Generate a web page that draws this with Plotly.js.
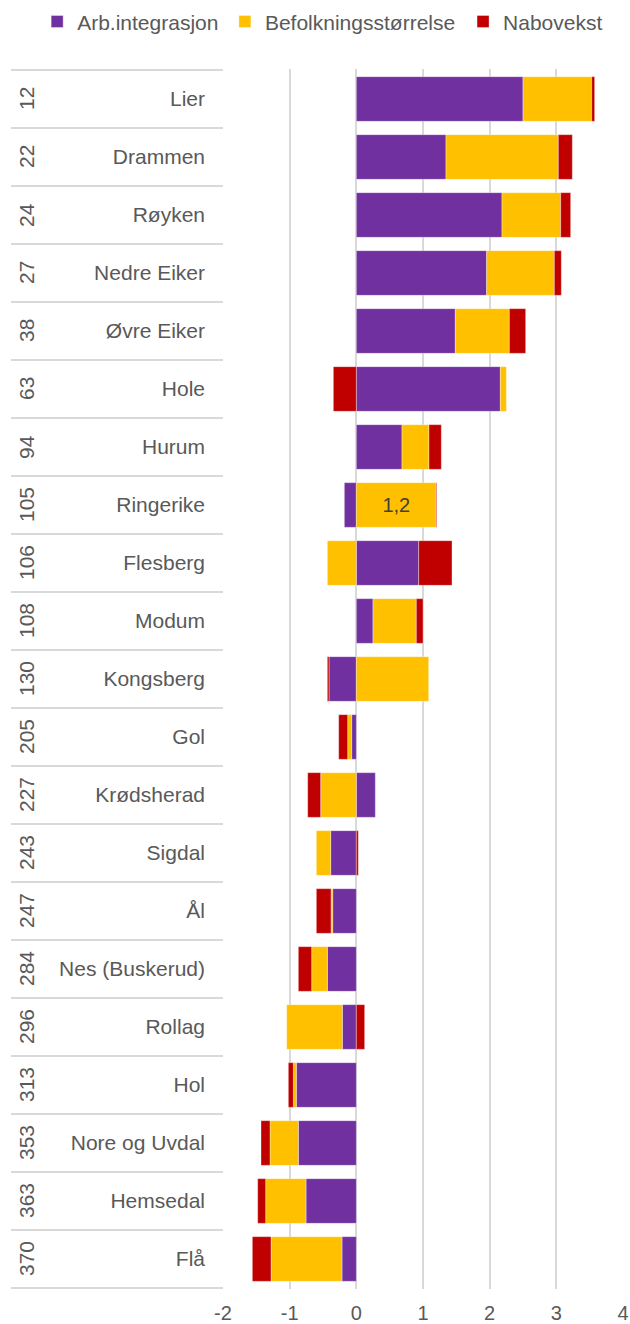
<!DOCTYPE html>
<html>
<head>
<meta charset="utf-8">
<script src="https://cdn.plot.ly/plotly-3.0.1.min.js"></script>
<style>
  html, body { margin: 0; padding: 0; background: #ffffff; }
  #chart { width: 630px; height: 1324px; }
</style>
</head>
<body>
<div id="chart"></div>
<script>
// Municipalities in Buskerud, ranked, with the three growth components
const kommuner = ["Lier", "Drammen", "Røyken", "Nedre Eiker", "Øvre Eiker", "Hole", "Hurum",
  "Ringerike", "Flesberg", "Modum", "Kongsberg", "Gol", "Krødsherad", "Sigdal", "Ål",
  "Nes (Buskerud)", "Rollag", "Hol", "Nore og Uvdal", "Hemsedal", "Flå"];
const rangering = ["12", "22", "24", "27", "38", "63", "94", "105", "106", "108", "130",
  "205", "227", "243", "247", "284", "296", "313", "353", "363", "370"];

const arbIntegrasjon = [2.50, 1.345, 2.185, 1.955, 1.485, 2.16, 0.685, -0.18, 0.935, 0.25, -0.41,
  -0.07, 0.285, -0.385, -0.355, -0.435, -0.21, -0.90, -0.87, -0.755, -0.215];
const befolkningsstorrelse = [1.03, 1.685, 0.88, 1.015, 0.81, 0.09, 0.405, 1.2, -0.435, 0.65, 1.085,
  -0.06, -0.535, -0.215, -0.025, -0.235, -0.835, -0.045, -0.425, -0.605, -1.065];
const nabovekst = [0.045, 0.21, 0.15, 0.105, 0.245, -0.345, 0.185, 0.01, 0.50, 0.10, -0.025,
  -0.135, -0.195, 0.03, -0.22, -0.20, 0.125, -0.075, -0.135, -0.12, -0.28];

const seriesNames = ["Arb.integrasjon", "Befolkningsstørrelse", "Nabovekst"];
const seriesColors = ["#7030A0", "#FFC000", "#C00000"];

// Value axis ticks, written with a plain hyphen for negatives
const xTickVals = [-2, -1, 0, 1, 2, 3, 4];
const xTickText = ["-2", "-1", "0", "1", "2", "3", "4"];

// Only the Ringerike population bar carries a value label
const labelledIndex = kommuner.indexOf("Ringerike");
const befLabels = befolkningsstorrelse.map((v, i) =>
  i === labelledIndex ? v.toFixed(1).replace(".", ",") : "");

const textColor = "#595959";
const gridColor = "#d9d9d9";
const fontFamily = "'Liberation Sans', Arial, sans-serif";
const labelSize = 21;

const outline = { color: "rgba(255,255,255,0.45)", width: 0.8 };

// One single-entry legend per series, laid out in a row across the top
const legendIds = ["legend", "legend2", "legend3"];
const legendLeft = [0.059, 0.357, 0.735];   // container units

const traces = [arbIntegrasjon, befolkningsstorrelse, nabovekst].map((vals, k) => ({
  type: "bar",
  orientation: "h",
  name: seriesNames[k],
  x: vals,
  y: kommuner,
  legend: legendIds[k],
  marker: { color: seriesColors[k], line: outline },
  hoverinfo: "x+y+name"
}));
traces[1].text = befLabels;
traces[1].textposition = "inside";
traces[1].insidetextanchor = "middle";
traces[1].textfont = { family: fontFamily, size: 20, color: "#404040" };
traces[1].cliponaxis = false;

// Category table: horizontal separators and rotated rank numbers to the left of the plot
const tableLeft = -0.53;   // paper units, left edge of the label table
const shapes = [];
for (let i = 0; i <= kommuner.length; i++) {
  shapes.push({
    type: "line", xref: "paper", yref: "y",
    x0: tableLeft, x1: 0, y0: i - 0.5, y1: i - 0.5,
    line: { color: gridColor, width: 2 }
  });
}
const annotations = rangering.map((r, i) => ({
  xref: "paper", yref: "y",
  x: -0.4925, y: kommuner[i],
  text: r, showarrow: false, textangle: -90,
  font: { family: fontFamily, size: labelSize, color: textColor },
  xanchor: "center", yanchor: "middle"
}));

const layout = {
  width: 630,
  height: 1324,
  margin: { l: 223, r: 7, t: 69, b: 35 },
  paper_bgcolor: "#ffffff",
  plot_bgcolor: "#ffffff",
  barmode: "relative",
  bargap: 0.23,
  font: { family: fontFamily, size: labelSize, color: textColor },
  showlegend: true,
  xaxis: {
    range: [-2, 4],
    tickmode: "array",
    tickvals: xTickVals,
    ticktext: xTickText,
    showgrid: true,
    gridcolor: gridColor,
    gridwidth: 2,
    zeroline: true,
    zerolinecolor: gridColor,
    zerolinewidth: 2,
    showline: false,
    ticks: "",
    ticklabelstandoff: 10,
    tickfont: { family: fontFamily, size: 20, color: textColor },
    automargin: false,
    fixedrange: true
  },
  yaxis: {
    type: "category",
    categoryorder: "array",
    categoryarray: kommuner,
    autorange: "reversed",
    showgrid: false,
    zeroline: false,
    showline: false,
    ticks: "",
    ticklabelstandoff: 17,
    tickfont: { family: fontFamily, size: labelSize, color: textColor },
    automargin: false,
    fixedrange: true
  },
  shapes: shapes,
  annotations: annotations
};

legendIds.forEach((id, k) => {
  layout[id] = {
    orientation: "h",
    xref: "container", yref: "container",
    x: legendLeft[k], xanchor: "left",
    y: 0.999, yanchor: "top",
    font: { family: fontFamily, size: labelSize, color: textColor },
    itemwidth: 30,
    bgcolor: "rgba(0,0,0,0)"
  };
});

Plotly.newPlot("chart", traces, layout, { displayModeBar: false, staticPlot: true });
</script>
</body>
</html>
